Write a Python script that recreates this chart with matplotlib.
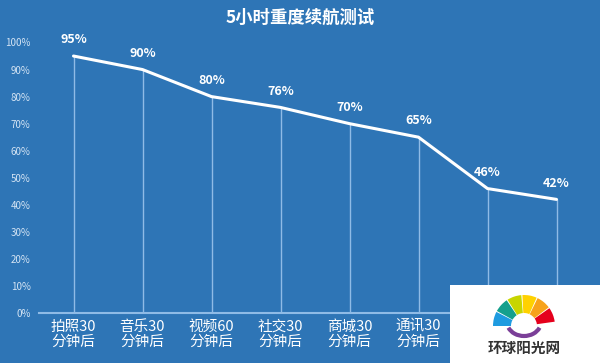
import matplotlib
matplotlib.use("Agg")
import matplotlib.pyplot as plt
from matplotlib.patches import Wedge, Rectangle, Arc

plt.rcParams['font.family'] = ['Noto Sans CJK SC', 'DejaVu Sans']

title = "5小时重度续航测试"
categories = ["拍照30\n分钟后", "音乐30\n分钟后", "视频60\n分钟后", "社交30\n分钟后",
              "商城30\n分钟后", "通讯30\n分钟后", "", ""]
values = [95, 90, 80, 76, 70, 65, 46, 42]
yticks = [0, 10, 20, 30, 40, 50, 60, 70, 80, 90, 100]

bg = "#2e75b6"
fig = plt.figure(figsize=(6, 3.63), dpi=100, facecolor=bg)
ax = fig.add_axes([39/600, 50/363, 552/600, 270.5/363])
ax.set_facecolor(bg)

x = list(range(len(values)))
ax.vlines(x, 0, values, color="#8fbbe6", lw=1.0, zorder=2)
ax.plot(x, values, color="white", lw=2.2, zorder=3, solid_capstyle="round")
for xi, v in zip(x, values):
    ax.annotate(f"{v}%", (xi, v), xytext=(0, 7), textcoords="offset points",
                ha="center", va="bottom", color="white", fontsize=9, fontweight="bold")

ax.set_xlim(-0.5, len(values) - 0.5)
ax.set_ylim(0, 100)
ax.set_yticks(yticks)
ax.set_yticklabels([f"{t}%" for t in yticks], color="#d4e4f4", fontsize=7)
ax.set_xticks(x)
ax.set_xticklabels(categories, color="white", fontsize=10.5, linespacing=1.1)
ax.tick_params(axis="both", length=0)
ax.tick_params(axis="y", pad=6)
ax.tick_params(axis="x", pad=5)
for s in ["top", "right", "left"]:
    ax.spines[s].set_visible(False)
ax.spines["bottom"].set_color("#8fbbe6")
ax.spines["bottom"].set_linewidth(1.5)

fig.text(0.5, 1 - 18/363, title, ha="center", va="center", color="white",
         fontsize=12.5, fontweight="bold")

# watermark overlay
wm = fig.add_axes([0, 0, 1, 1], facecolor="none")
wm.set_xlim(0, 600)
wm.set_ylim(363, 0)
wm.axis("off")
wm.add_patch(Rectangle((450, 285), 150, 78, facecolor="white", edgecolor="none"))
cx, cy = 524, 326
colors = ["#1e9be0", "#14a08c", "#c7d500", "#ffd100", "#f7a21b", "#e5001c"]
angles = [(180, 153), (151, 124), (122, 95), (93, 66), (64, 37), (35, 8)]
for c, (a1, a2) in zip(colors, angles):
    wm.add_patch(Wedge((cx, cy), 31, -a1, -a2, width=18, facecolor=c, edgecolor="none"))
wm.add_patch(Arc((cx, cy - 4), 34, 28, theta1=20, theta2=160, color="#7b3f98", lw=3))
wm.text(524, 348, "环球阳光网", ha="center", va="center", color="#333333",
        fontsize=10.5, fontweight="bold")

fig.savefig("out.png", dpi=100, facecolor=bg)
